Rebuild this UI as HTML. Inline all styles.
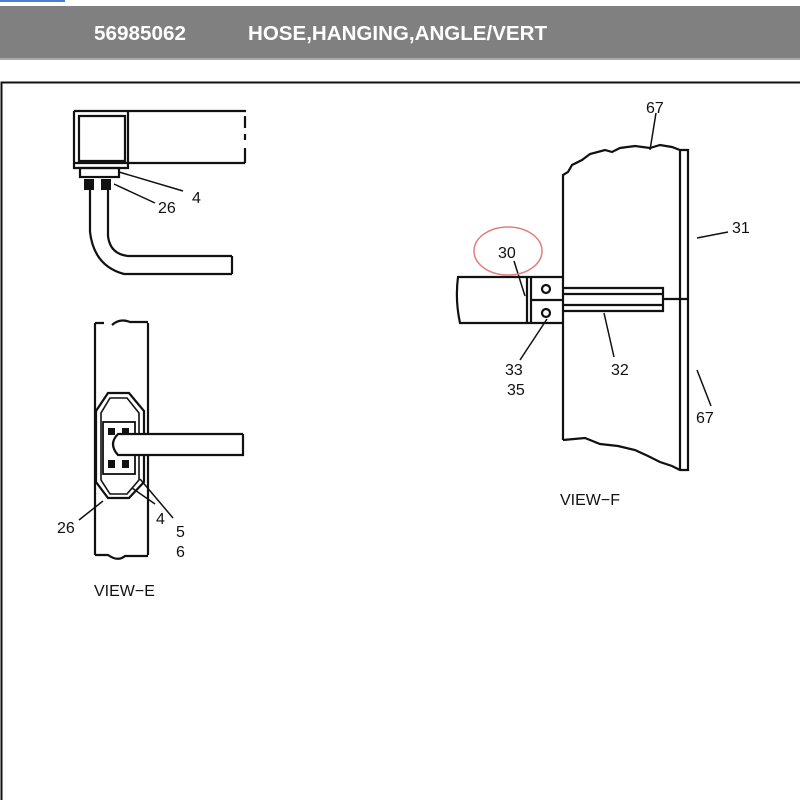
<!DOCTYPE html>
<html><head><meta charset="utf-8"><style>
html,body{margin:0;padding:0;background:#fff;width:800px;height:800px;overflow:hidden}
svg{display:block}
text{font-family:"Liberation Sans",Arial,sans-serif;fill:#111}
</style></head><body>
<svg width="800" height="800" viewBox="0 0 800 800" xmlns="http://www.w3.org/2000/svg">
<rect x="0" y="0" width="65" height="2" fill="#4a7fd0"/>
<rect x="0" y="6" width="800" height="54" fill="#808080"/>
<rect x="0" y="58" width="800" height="2" fill="#aaa"/>
<text x="94" y="40" font-size="20" font-weight="bold" textLength="92" lengthAdjust="spacingAndGlyphs" style="fill:#fff">56985062</text>
<text x="248" y="40" font-size="20" font-weight="bold" textLength="299" lengthAdjust="spacingAndGlyphs" style="fill:#fff">HOSE,HANGING,ANGLE/VERT</text>
<path d="M1.5 800 V82.5 H800" fill="none" stroke="#111" stroke-width="2"/>

<g fill="none" stroke="#111" stroke-width="2.2">
<path d="M74 111 H246 M74 163 H245 M74 111 V168 H128 V111 M79 116 H125 V161 H79 Z"/>
<path d="M245 116 V128 M245 134 V140 M245 148 V163"/>
<rect x="80" y="168" width="39" height="9"/>
<path d="M90 190 V232 Q94 266 124 274 H232 M108 190 V236 Q110 254 128 256 H232 M232 256 V274"/>
<path d="M119 172 L183 191 M114 184 L155 203" stroke-width="1.5"/>
<path d="M95 323 V555 M148 323 V555 M95 323 H104 M112 325 Q120 318 130 322 H148 M95 555 H108 Q118 562 125 556 H148"/>
<path d="M108 393 H129 L144 411 V482 L129 498 H108 L96 482 V411 Z"/>
<path d="M110 398 H127 L139 413 V480 L127 494 H110 L101 480 V413 Z" stroke-width="1.6"/>
<rect x="103" y="422" width="32" height="52" stroke-width="1.8"/>
<path d="M243 434 H118 Q108 444 118 455 H243 V434" fill="#fff"/>
<path d="M103 501 L79 520 M132 488 L155 504 M140 479 L173 518" stroke-width="1.5"/>
<path d="M563 440 V175 L568 172 L572 165 L582 160 L590 154 L605 150 L612 152 L620 148 L635 146 L650 148 L660 145 L672 147 L680 150 H688 V470 H680 L672 466 L660 462 L648 456 L635 450 L618 446 L600 444 L585 438 L563 440"/>
<path d="M680 150 V470"/>
<path d="M527 277 H458 Q455 300 460 323 H527 Z M527 277 V323 M531 277 V323 M527 277 H563 M527 323 H563 M531 300 H563"/>
<path d="M563 288 H663 V311 H563 M563 294 H663 M563 305 H663 M663 299 H688"/>
<circle cx="546" cy="289" r="4"/><circle cx="546" cy="313" r="4"/>
<path d="M514 261 L525 296 M547 319 L520 360 M604 313 L614 357 M697 238 L728 232 M697 370 L711 406 M656 113 L650 150" stroke-width="1.5"/>
</g>
<g fill="#111">
<rect x="84" y="179" width="10" height="11"/><rect x="101" y="179" width="10" height="11"/>
<rect x="108" y="428" width="7" height="7"/><rect x="122" y="428" width="7" height="7"/>
<rect x="108" y="460" width="7" height="8"/><rect x="122" y="460" width="7" height="8"/>
</g>
<ellipse cx="508" cy="251" rx="34" ry="24" fill="none" stroke="#e08080" stroke-width="1.5"/>
<g font-size="16">
<text x="192" y="203">4</text><text x="158" y="213">26</text>
<text x="57" y="533">26</text><text x="156" y="524">4</text><text x="176" y="537">5</text><text x="176" y="557">6</text>
<text x="94" y="596">VIEW−E</text>
<text x="646" y="113">67</text><text x="732" y="233">31</text><text x="498" y="258">30</text>
<text x="505" y="375">33</text><text x="507" y="395">35</text><text x="611" y="375">32</text><text x="696" y="423">67</text>
<text x="560" y="505">VIEW−F</text>
</g>
</svg>
</body></html>
